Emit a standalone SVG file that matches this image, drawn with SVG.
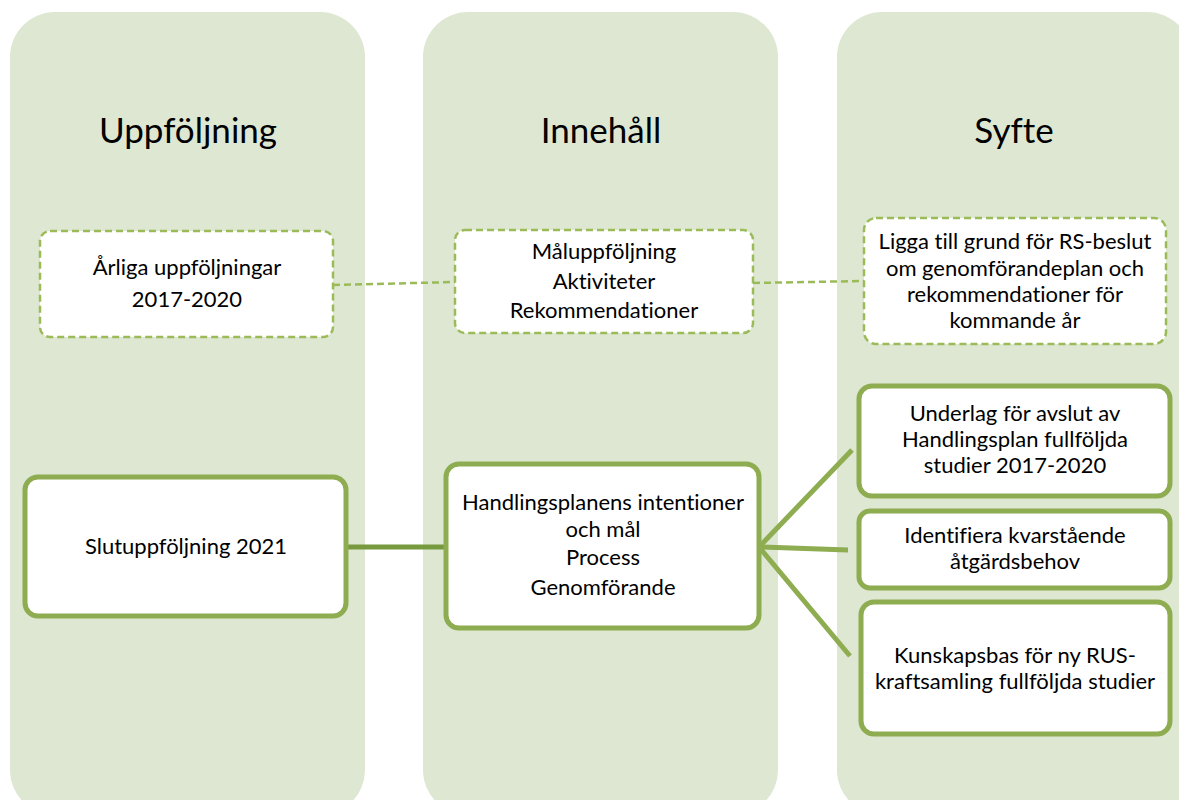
<svg xmlns="http://www.w3.org/2000/svg" width="1179" height="800" viewBox="0 0 1179 800">
<style>
.col{fill:#dee7d2;}
.title{font-family:Lato,"Liberation Sans",sans-serif;font-size:35px;fill:#000;text-anchor:middle;font-variant-ligatures:none;}
.t{font-family:Lato,"Liberation Sans",sans-serif;font-size:22px;fill:#000;text-anchor:middle;font-variant-ligatures:none;}
.dbox{fill:#fff;stroke:#9bbb59;stroke-width:2.5;stroke-dasharray:7,4;}
.sbox{fill:#fff;stroke:#8eac50;stroke-width:5;}
.dline{fill:none;stroke:#9bbb59;stroke-width:2.5;stroke-dasharray:7,4;}
.sline{fill:none;stroke:#8eac50;stroke-width:5;}
.sline2{fill:none;stroke:#779a3e;stroke-width:5;}
</style>
<rect width="1179" height="800" fill="#fff"/>
<g id="columns">
<rect class="col" x="10" y="12" width="355" height="803" rx="45"/>
<rect class="col" x="423" y="12" width="355" height="803" rx="45"/>
<rect class="col" x="837" y="12" width="355" height="803" rx="45"/>
<text class="title" x="188" y="143">Uppföljning</text>
<text class="title" x="601" y="143">Innehåll</text>
<text class="title" x="1014" y="143">Syfte</text>
</g>
<g id="connectors">
<line class="dline" x1="333" y1="285" x2="455" y2="282"/>
<line class="dline" x1="753" y1="283" x2="864" y2="281"/>
<line class="sline2" x1="346" y1="547" x2="446" y2="547"/>
<line class="sline" x1="759" y1="547" x2="852" y2="450"/>
<line class="sline" x1="759" y1="547" x2="848" y2="550"/>
<line class="sline" x1="759" y1="547" x2="850" y2="656"/>
</g>
<g id="arliga">
<rect class="dbox" x="40" y="231" width="293" height="106" rx="10"/>
<text class="t" x="187" y="275">Årliga uppföljningar</text>
<text class="t" x="187" y="307">2017-2020</text>
</g>
<g id="maluppfoljning">
<rect class="dbox" x="455" y="230" width="298" height="103" rx="10"/>
<text class="t" x="604" y="259">Måluppföljning</text>
<text class="t" x="604" y="289">Aktiviteter</text>
<text class="t" x="604" y="318">Rekommendationer</text>
</g>
<g id="ligga">
<rect class="dbox" x="864" y="218" width="302" height="126" rx="12"/>
<text class="t" x="1015" y="249">Ligga till grund för RS-beslut</text>
<text class="t" x="1015" y="276">om genomförandeplan och</text>
<text class="t" x="1015" y="302">rekommendationer för</text>
<text class="t" x="1015" y="328">kommande år</text>
</g>
<g id="slutuppfoljning">
<rect class="sbox" x="25" y="477" width="321" height="139" rx="13"/>
<text class="t" x="186" y="554">Slutuppföljning 2021</text>
</g>
<g id="handlingsplanens">
<rect class="sbox" x="446" y="464" width="313" height="164" rx="13"/>
<text class="t" x="603" y="510">Handlingsplanens intentioner</text>
<text class="t" x="603" y="537">och mål</text>
<text class="t" x="603" y="565">Process</text>
<text class="t" x="603" y="595">Genomförande</text>
</g>
<g id="underlag">
<rect class="sbox" x="859" y="386" width="311" height="110" rx="13"/>
<text class="t" x="1015" y="421">Underlag för avslut av</text>
<text class="t" x="1015" y="447">Handlingsplan fullföljda</text>
<text class="t" x="1015" y="473">studier 2017-2020</text>
</g>
<g id="identifiera">
<rect class="sbox" x="859" y="511" width="311" height="77" rx="11"/>
<text class="t" x="1015" y="543">Identifiera kvarstående</text>
<text class="t" x="1015" y="569">åtgärdsbehov</text>
</g>
<g id="kunskapsbas">
<rect class="sbox" x="861" y="602" width="309" height="132" rx="13"/>
<text class="t" x="1015" y="663">Kunskapsbas för ny RUS-</text>
<text class="t" x="1015" y="689">kraftsamling fullföljda studier</text>
</g>
</svg>
